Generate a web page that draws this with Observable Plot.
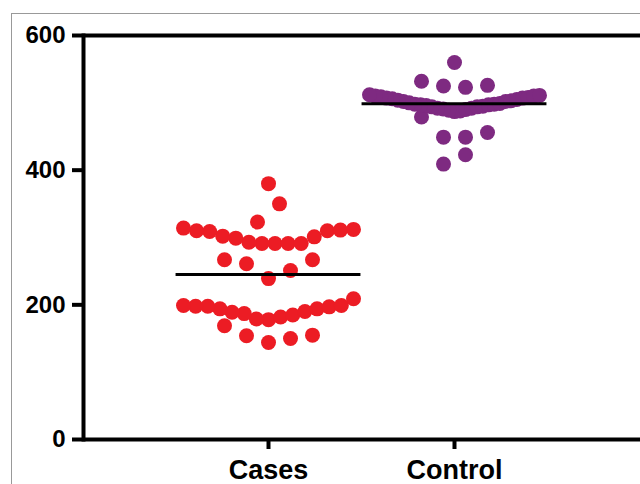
<!DOCTYPE html>
<html>
<head>
<meta charset="utf-8">
<script src="https://cdn.jsdelivr.net/npm/d3@7"></script>
<script src="https://cdn.jsdelivr.net/npm/@observablehq/plot@0.6"></script>
<style>
  html, body { margin: 0; padding: 0; background: #fff; overflow: hidden; }
  #wrap { position: relative; width: 640px; height: 484px; overflow: hidden; }
  #chart { width: 720px; }
  #border { position: absolute; left: 11px; top: 13px; width: 700px; height: 600px;
            border: 1.5px solid #999; pointer-events: none; }
  #chart svg [aria-label^="x-axis"] text { font-size: 27px; }
  #chart svg [aria-label^="y-axis"] text { font-size: 24px; }
  #chart svg [aria-label$="axis tick"] path,
  #chart svg [aria-label="x-axis"] .tick line,
  #chart svg [aria-label="y-axis"] .tick line { stroke-width: 4px; stroke: #000; }
</style>
</head>
<body>
<div id="wrap"><div id="chart"></div><div id="border"></div></div>
<script>
// ---- data ----
const categories = ["Cases", "Control"];
const casesValues = [
  144, 150, 154, 155, 169,
  178, 182, 179, 185, 187, 190, 189, 194, 194, 197, 198, 199, 198, 209, 199,
  239, 251, 261, 267, 267,
  291, 291, 291, 293, 291, 299, 301, 302, 310, 309, 311, 310, 312, 314,
  350, 323, 380
];
const controlValues = [
  423, 409,
  449, 449, 456, 479,
  487, 488, 489, 490, 491, 492, 492, 494, 494, 495, 496, 497, 497, 498, 498,
  499, 500, 502, 502, 503, 504, 505, 506, 507, 507, 508, 509, 510, 510, 511, 512,
  523, 525, 526, 532,
  560
];
const yTicks = [0, 200, 400, 600];
const groupColors = ["#ec1c24", "#7e2a81"];

// ---- GraphPad-like scatter layout (values grouped into rows, spread horizontally) ----
const PX_PER_UNIT = 186;     // pixels between the two category centres
const MAX_GAP = 22, MAX_WIDTH = 170, ROW_SPAN = 31;
function spread(values) {
  const order = d3.range(values.length).sort((a, b) => values[a] - values[b] || a - b);
  const rows = [];
  let cur = null;
  for (const i of order) {
    if (!cur || values[i] - cur.start > ROW_SPAN) { cur = {start: values[i], members: []}; rows.push(cur); }
    cur.members.push(i);
  }
  const off = new Array(values.length).fill(0);
  for (const row of rows) {
    const m = row.members.slice().sort((a, b) => a - b);
    const n = m.length;
    const s = n > 1 ? Math.min(MAX_GAP, MAX_WIDTH / (n - 1)) : 0;
    m.forEach((i, j) => {
      let k;
      if (n % 2) k = j === 0 ? 0 : (j % 2 ? (j + 1) / 2 : -j / 2);
      else k = (j % 2 === 0 ? 1 : -1) * (Math.floor(j / 2) + 0.5);
      off[i] = k * s / PX_PER_UNIT;
    });
  }
  return off;
}

const series = [casesValues, controlValues];
const points = [];
const summary = [];
series.forEach((vals, gi) => {
  const off = spread(vals);
  vals.forEach((v, i) => points.push({group: categories[gi], value: v, x: gi + off[i]}));
  summary.push({group: categories[gi], i: gi, center: d3.median(vals)});
});

// The plot box continues past the right edge of the picture (cropped), so only
// its top, bottom and left sides are visible.
const chart = Plot.plot({
  width: 720,
  height: 484,
  marginLeft: 83,
  marginRight: 0,
  marginTop: 35,
  marginBottom: 45,
  style: {fontFamily: "'Liberation Sans', Arial, sans-serif", fontWeight: "bold", fontSize: "24px",
          color: "#000", background: "transparent", maxWidth: "none"},
  x: {domain: [0, 1], range: [268, 454], ticks: [0, 1], tickFormat: i => categories[i], tickSize: 10, tickPadding: 10, label: null},
  y: {domain: [0, 600], ticks: yTicks, tickSize: 11, tickPadding: 7, tickFormat: d => String(d), label: null},
  color: {domain: categories, range: groupColors},
  marks: [
    Plot.dot(points, {x: "x", y: "value", r: 7.5, fill: "group", stroke: "none"}),
    Plot.ruleY(summary, {y: "center", x1: d => d.i - 0.497, x2: d => d.i + 0.497, stroke: "#000", strokeWidth: 3}),
    Plot.ruleY([0, 600], {stroke: "#000", strokeWidth: 4}),
    Plot.frame({anchor: "left", stroke: "#000", strokeWidth: 4})
  ]
});
document.getElementById("chart").appendChild(chart);
</script>
</body>
</html>
